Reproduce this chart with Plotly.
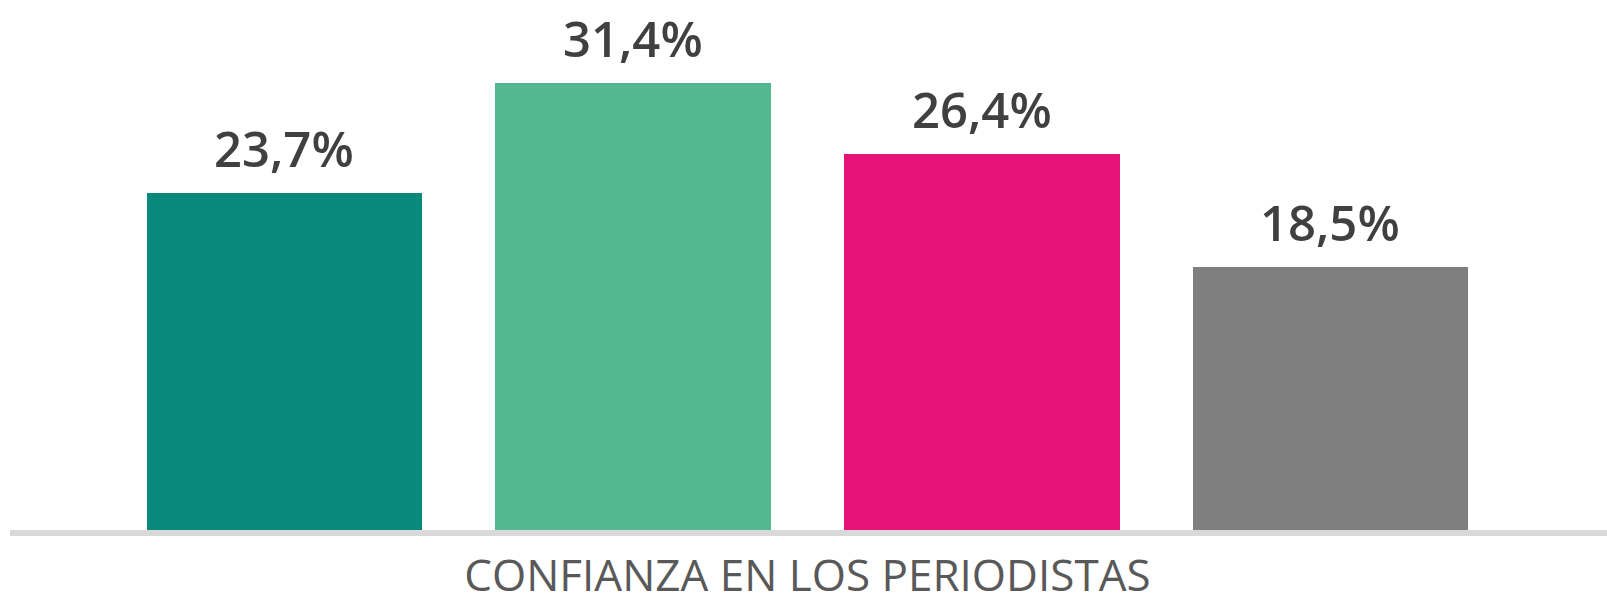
import plotly.graph_objects as go

# Survey result: trust in journalists, four answer groups
category = "CONFIANZA EN LOS PERIODISTAS"
values = [23.7, 31.4, 26.4, 18.5]
labels = ["23,7%", "31,4%", "26,4%", "18,5%"]
colors = ["#078a7b", "#53b790", "#e61478", "#7f7f7f"]

positions = list(range(len(values)))

fig = go.Figure()
fig.add_trace(go.Bar(
    x=positions,
    y=values,
    width=0.79,
    marker=dict(color=colors, line=dict(width=0)),
    hoverinfo="skip",
    showlegend=False,
))

# Value labels above each bar
for xp, v, t in zip(positions, values, labels):
    fig.add_annotation(
        x=xp, y=v, text=t, showarrow=False,
        xanchor="center", yanchor="bottom", yshift=10,
        font=dict(family="Open Sans", size=49, color="#404040", weight=600),
    )

fig.update_layout(
    width=1607, height=605,
    margin=dict(l=10, r=0, t=0, b=75),
    paper_bgcolor="white", plot_bgcolor="white",
    bargap=0,
    xaxis=dict(
        range=[-0.787, 3.793],
        tickvals=[1.5], ticktext=[category],
        tickfont=dict(family="Open Sans", size=44, color="#595959", weight=500),
        ticklabelstandoff=2,
        automargin=False,
        showgrid=False, zeroline=False,
        showline=True, linecolor="#d9d9d9", linewidth=6,
        ticks="", fixedrange=True,
    ),
    yaxis=dict(
        range=[0, 530 / 14.24],
        visible=False, showgrid=False, zeroline=False, fixedrange=True,
    ),
)

fig.write_html("out.html")
